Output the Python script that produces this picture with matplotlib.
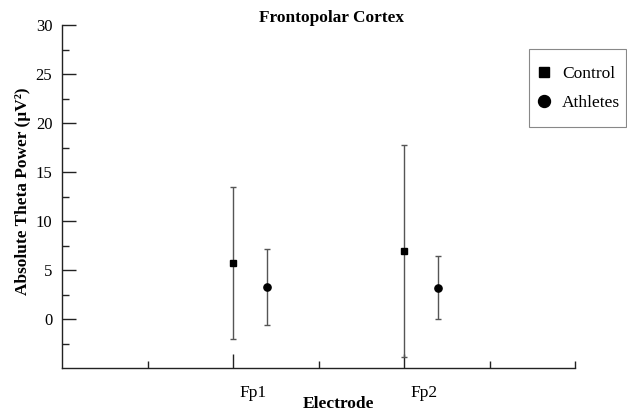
import matplotlib
matplotlib.use("Agg")
import matplotlib.pyplot as plt
from matplotlib.lines import Line2D
from matplotlib.patches import Rectangle
from matplotlib.transforms import ScaledTranslation

plt.rcParams['font.family'] = ['Liberation Serif', 'DejaVu Serif']

electrodes = ["Fp1", "Fp2"]
electrode_pos = [2, 4]
offset = 0.4
control_mean = [5.75, 6.94]
control_err = [7.75, 10.8]
athletes_mean = [3.27, 3.2]
athletes_err = [3.9, 3.2]

fig = plt.figure(figsize=(6.27, 4.12), dpi=100)
ax = fig.add_axes([62/627, 1-368/412, (575-62)/627, (368-25)/412])

ax.errorbar(electrode_pos, control_mean, yerr=control_err, fmt='s', color='black',
            ms=4.8, ecolor='#555555', elinewidth=1, capsize=2.3, capthick=1)
ax.errorbar([p + offset for p in electrode_pos], athletes_mean, yerr=athletes_err, fmt='o',
            color='black', ms=5.2, ecolor='#555555', elinewidth=1, capsize=2.3, capthick=1)

ax.set_xlim(0, 6)
ax.set_ylim(-5, 30)
ax.set_yticks([0, 5, 10, 15, 20, 25, 30])
ax.set_yticks([-2.5, 2.5, 7.5, 12.5, 17.5, 22.5, 27.5], minor=True)
ax.set_xticks(electrode_pos)
ax.set_xticklabels(electrodes)
ax.set_xticks([1, 3, 5, 6], minor=True)

for s in ['top', 'right']:
    ax.spines[s].set_visible(False)
for s in ['left', 'bottom']:
    ax.spines[s].set_linewidth(1.0)
    ax.spines[s].set_color('#222222')

ax.tick_params(axis='both', which='major', direction='in', length=10, width=1,
               labelsize=12, color='#222222')
ax.tick_params(axis='both', which='minor', direction='in', length=5, width=1, color='#222222')
ax.tick_params(axis='y', which='major', pad=7)
ax.tick_params(axis='x', which='major', pad=12, labelsize=12.5)

shift = ScaledTranslation(20/100, 0, fig.dpi_scale_trans)
for lab in ax.get_xticklabels():
    lab.set_transform(lab.get_transform() + shift)

ax.set_ylabel("Absolute Theta Power (µV²)", fontsize=12.4, fontweight='bold')
ax.yaxis.set_label_coords(-0.06, (368-191.5)/343)
ax.set_xlabel("Electrode", fontsize=12.5, fontweight='bold')
ax.xaxis.set_label_coords((338-62)/513, -0.082)

fig.text(332/627, 1-18/412, "Frontopolar Cortex", ha='center', va='center',
         fontsize=12.4, fontweight='bold')

# legend frame
fig.patches.append(Rectangle((529/627, 1-127/412), (626-529)/627, (127-49)/412,
                             transform=fig.transFigure, fill=False,
                             edgecolor='#888888', linewidth=0.8))

handles = [Line2D([], [], marker='s', color='black', ls='none', ms=7.2),
           Line2D([], [], marker='o', color='black', ls='none', ms=8.6)]
leg = ax.legend(handles, ["Control", "Athletes"], loc='upper left',
                bbox_to_anchor=(537/627, 1-66/412), bbox_transform=fig.transFigure,
                fontsize=12.5, frameon=False, handlelength=0.8,
                handletextpad=0.65, borderpad=0, labelspacing=0.75, borderaxespad=0)

fig.savefig("out.png", dpi=100)
